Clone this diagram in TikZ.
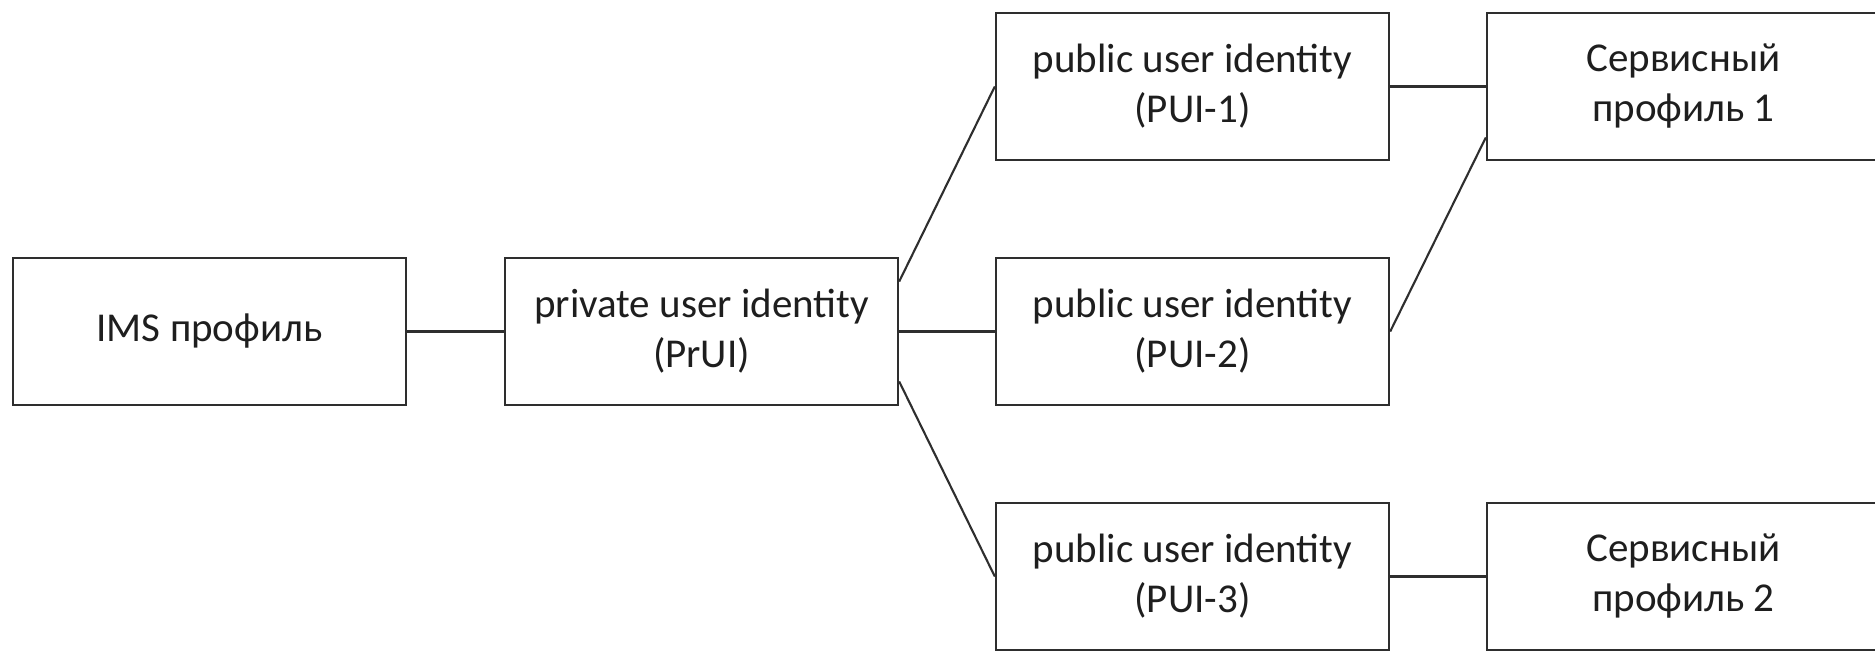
\documentclass[tikz,border=0pt]{standalone}
\usepackage{fontspec}
\setmainfont{Carlito}
\usetikzlibrary{calc}
\definecolor{edgegray}{HTML}{2E2E2E}
\definecolor{textgray}{HTML}{1E1E1E}
\tikzset{
  idbox/.style={draw=edgegray, line width=2.4pt, rectangle, minimum width=393pt,
    minimum height=147pt, inner sep=0pt, align=center, text=textgray,
    font=\fontsize{41pt}{50pt}\selectfont},
  link/.style={draw=edgegray, line width=2.1pt}
}
\begin{document}
\begin{tikzpicture}[x=1pt, y=-1pt]
  \useasboundingbox (0,0) rectangle (1875,651);
  \clip (0,0) rectangle (1875,651);
  \fill[white] (0,0) rectangle (1875,651);

  % profile hierarchy
  \node[idbox] (ims)  at (209.5,331.5)  {IMS профиль};
  \node[idbox] (prui) at (701.5,331.5)  {private user identity\\(PrUI)};
  \node[idbox] (pui1) at (1192.5,86.5)  {public user identity\\(PUI-1)};
  \node[idbox] (pui2) at (1192.5,331.5) {public user identity\\(PUI-2)};
  \node[idbox] (pui3) at (1192.5,576.5) {public user identity\\(PUI-3)};
  \node[idbox] (sp1)  at (1683.5,86.5)  {Сервисный\\профиль 1};
  \node[idbox] (sp2)  at (1683.5,576.5) {Сервисный\\профиль 2};

  % attachment points off the box centres
  \coordinate (pruiup) at ($(prui.east)+(0,50pt)$);
  \coordinate (pruidn) at ($(prui.east)+(0,-50pt)$);
  \coordinate (sp1low) at ($(sp1.west)+(0,-51pt)$);

  % connectors
  \draw[link] (ims.east) -- (prui.west);
  \draw[link] (pruiup) -- (pui1.west);
  \draw[link] (prui.east) -- (pui2.west);
  \draw[link] (pruidn) -- (pui3.west);
  \draw[link] (pui1.east) -- (sp1.west);
  \draw[link] (pui2.east) -- (sp1low);
  \draw[link] (pui3.east) -- (sp2.west);
\end{tikzpicture}
\end{document}
